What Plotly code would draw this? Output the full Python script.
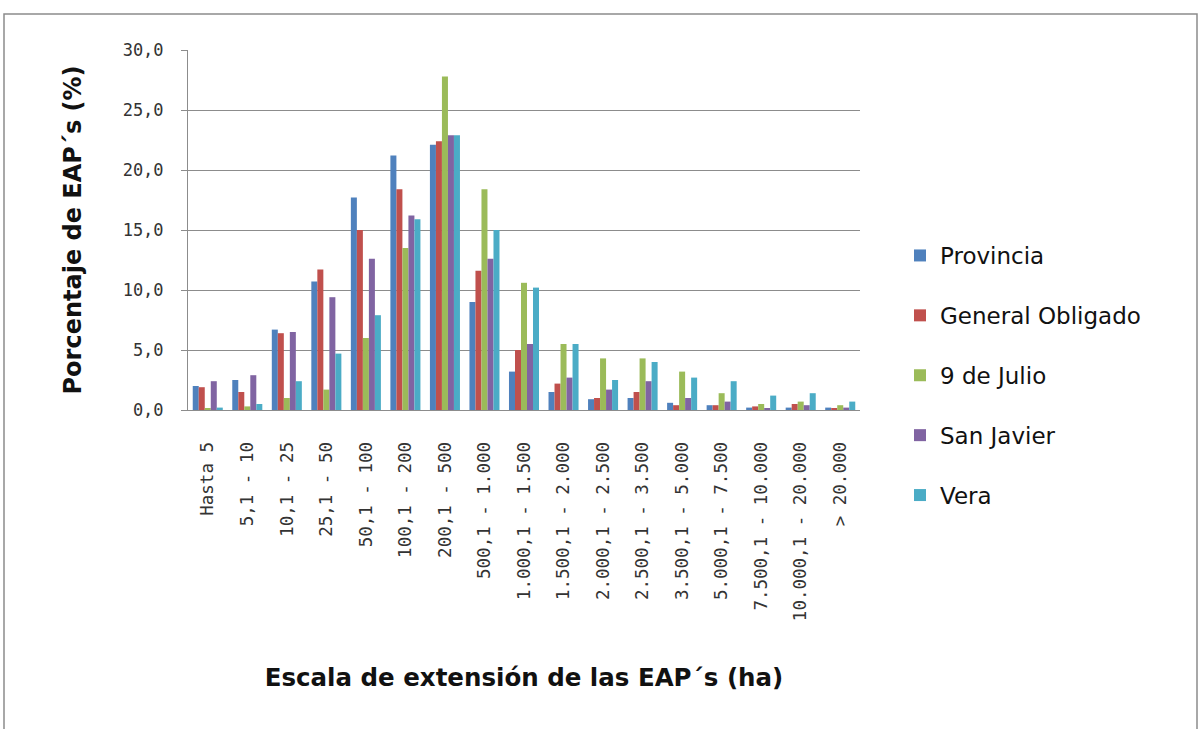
import plotly.graph_objects as go

categories = ["Hasta 5", "5,1 - 10", "10,1 - 25", "25,1 - 50", "50,1 - 100", "100,1 - 200",
              "200,1 - 500", "500,1 - 1.000", "1.000,1 - 1.500", "1.500,1 - 2.000",
              "2.000,1 - 2.500", "2.500,1 - 3.500", "3.500,1 - 5.000", "5.000,1 - 7.500",
              "7.500,1 - 10.000", "10.000,1 - 20.000", "> 20.000"]

provincia = [2.0, 2.5, 6.7, 10.7, 17.7, 21.2, 22.1, 9.0, 3.2, 1.5, 0.9, 1.0, 0.6, 0.4, 0.2, 0.2, 0.2]
general_obligado = [1.9, 1.5, 6.4, 11.7, 15.0, 18.4, 22.4, 11.6, 5.0, 2.2, 1.0, 1.5, 0.4, 0.4, 0.3, 0.5, 0.1]
nueve_de_julio = [0.1, 0.3, 1.0, 1.7, 6.0, 13.5, 27.8, 18.4, 10.6, 5.5, 4.3, 4.3, 3.2, 1.4, 0.5, 0.7, 0.4]
san_javier = [2.4, 2.9, 6.5, 9.4, 12.6, 16.2, 22.9, 12.6, 5.5, 2.7, 1.7, 2.4, 1.0, 0.7, 0.1, 0.4, 0.2]
vera = [0.2, 0.5, 2.4, 4.7, 7.9, 15.9, 22.9, 15.0, 10.2, 5.5, 2.5, 4.0, 2.7, 2.4, 1.2, 1.4, 0.7]

series = [
    ("Provincia", provincia, "#4F81BD"),
    ("General Obligado", general_obligado, "#C0504D"),
    ("9 de Julio", nueve_de_julio, "#9BBB59"),
    ("San Javier", san_javier, "#8064A2"),
    ("Vera", vera, "#4BACC6"),
]

fig = go.Figure()
for name, vals, color in series:
    fig.add_trace(go.Bar(x=categories, y=vals, name=name, marker_color=color,
                         marker_line_width=0, legendgroup=name))

L, R, T, B = 188, 860, 50, 410
W, H = 1198, 729

fig.update_layout(
    width=W, height=H,
    margin=dict(l=L, r=W - R, t=T, b=H - B, pad=0),
    paper_bgcolor="white", plot_bgcolor="white",
    barmode="group", bargap=0.24, bargroupgap=0,
    separators=",.",
    font=dict(family="DejaVu Sans Mono", color="#303030"),
    showlegend=True,
    legend=dict(x=(900 - L) / (R - L), y=(410 - 234) / 360, xanchor="left", yanchor="top",
                font=dict(family="DejaVu Sans", size=23, color="#111111"),
                tracegroupgap=27, itemwidth=30),
    yaxis=dict(range=[0, 30], dtick=5, tickformat=".1f", showgrid=True,
               gridcolor="#8C8C8C", gridwidth=1, showline=True, linecolor="#8C8C8C",
               ticks="outside", ticklen=6, tickcolor="#8C8C8C", ticklabelstandoff=14,
               tickfont=dict(family="DejaVu Sans Mono", size=17, color="#333333"), zeroline=False,
               title=dict(text="<b>Porcentaje de EAP´s (%)</b>", standoff=34,
                          font=dict(family="DejaVu Sans", size=24, color="#111111"))),
    xaxis=dict(tickangle=-90, showline=True, linecolor="#8C8C8C", ticks="",
               ticklabelstandoff=24,
               tickfont=dict(family="DejaVu Sans Mono", size=17.5, color="#333333"),
               title=dict(text="<b>Escala de extensión de las EAP´s (ha)</b>", standoff=48,
                          font=dict(family="DejaVu Sans", size=24.5, color="#111111"))),
    shapes=[dict(type="rect", xref="paper", yref="paper",
                 x0=(4 - L) / (R - L), x1=(1197 - L) / (R - L),
                 y0=(410 - 740) / 360, y1=(410 - 14) / 360,
                 line=dict(color="#8C8C8C", width=1.5), fillcolor="rgba(0,0,0,0)", layer="below")],
)

fig.write_html("out.html", config={"displayModeBar": False},
               post_script="document.body.style.margin='0';document.body.style.padding='0';")
